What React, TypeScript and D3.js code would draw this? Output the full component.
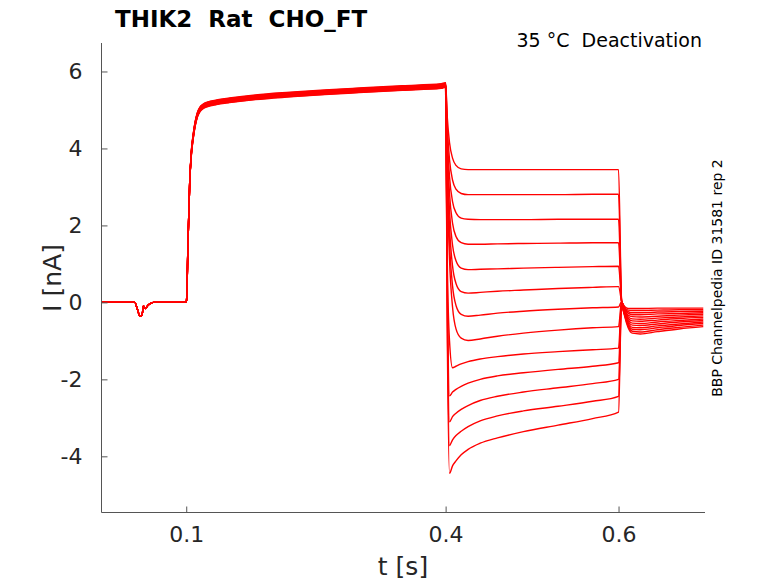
import { useEffect, useRef } from "react";
import * as d3 from "d3";

// holding + prepulse part, same for every sweep (t in s, I in nA)
const preTimes = [0.002, 0.0405, 0.0435, 0.0465, 0.048, 0.0495, 0.0505, 0.0525, 0.056, 0.062, 0.1, 0.1005, 0.102, 0.104, 0.106, 0.108, 0.11, 0.113, 0.116, 0.12, 0.125, 0.135, 0.15, 0.18, 0.22, 0.26, 0.3, 0.35, 0.395];
const preValues = [0, 0, -0.18, -0.36, -0.36, -0.25, -0.09, -0.16, -0.07, 0, 0, 0.1, 1.5, 3.1, 3.9, 4.3, 4.6, 4.88, 5.02, 5.1, 5.15, 5.2, 5.25, 5.33, 5.4, 5.46, 5.51, 5.57, 5.62];
// small spread of the sweeps during the activating step
const sweepSpread = [0.06, 0.05, 0.04, 0.03, 0.02, 0.01, 0.0, -0.01, -0.02, -0.03, -0.04, -0.05, -0.06];

// deactivation step
const deactTimes = [0.4, 0.402, 0.4045, 0.408, 0.412, 0.418, 0.426, 0.44, 0.46, 0.49, 0.53, 0.57, 0.6];
const deactValues = [
  [5.65, 4.79, 4.15, 3.75, 3.56, 3.47, 3.45, 3.45, 3.45, 3.45, 3.45, 3.45, 3.45],
  [5.65, 4.54, 3.71, 3.18, 2.94, 2.83, 2.8, 2.8, 2.8, 2.8, 2.8, 2.81, 2.81],
  [5.65, 4.29, 3.27, 2.62, 2.33, 2.19, 2.16, 2.15, 2.15, 2.15, 2.16, 2.16, 2.16],
  [5.65, 4.03, 2.83, 2.06, 1.71, 1.55, 1.51, 1.51, 1.52, 1.53, 1.54, 1.55, 1.55],
  [5.65, 3.77, 2.38, 1.49, 1.08, 0.89, 0.85, 0.86, 0.87, 0.89, 0.91, 0.93, 0.94],
  [5.65, 3.53, 1.96, 0.95, 0.49, 0.28, 0.24, 0.26, 0.29, 0.32, 0.36, 0.39, 0.41],
  [5.65, 3.3, 1.55, 0.43, -0.08, -0.31, -0.36, -0.33, -0.28, -0.23, -0.18, -0.14, -0.12],
  [5.65, 3.05, 1.11, -0.12, -0.69, -0.93, -0.99, -0.95, -0.88, -0.8, -0.72, -0.66, -0.63],
  [5.65, 1.0, -1.0, -1.7, -1.66, -1.6, -1.54, -1.47, -1.41, -1.34, -1.28, -1.23, -1.19],
  [5.65, 0.5, -2.43, -2.33, -2.26, -2.18, -2.1, -2.0, -1.91, -1.83, -1.74, -1.66, -1.57],
  [5.65, 0.0, -3.1, -2.97, -2.88, -2.78, -2.68, -2.55, -2.44, -2.33, -2.22, -2.11, -2.0],
  [5.65, -0.5, -3.72, -3.57, -3.46, -3.35, -3.23, -3.08, -2.95, -2.82, -2.7, -2.57, -2.44],
  [5.65, -1.0, -4.44, -4.25, -4.12, -3.96, -3.82, -3.66, -3.52, -3.36, -3.19, -3.02, -2.85],
];

// tail after the step back
const tailTimes = [0.6035, 0.607, 0.611, 0.616, 0.625, 0.645, 0.67, 0.698];
const tailValues = [
  [0.05, -0.35, -0.65, -0.8, -0.82, -0.76, -0.69, -0.63],
  [0.05, -0.33, -0.61, -0.75, -0.77, -0.71, -0.65, -0.59],
  [0.04, -0.31, -0.57, -0.7, -0.71, -0.66, -0.6, -0.55],
  [0.04, -0.29, -0.53, -0.65, -0.66, -0.61, -0.56, -0.51],
  [0.03, -0.27, -0.49, -0.59, -0.6, -0.56, -0.51, -0.47],
  [0.03, -0.25, -0.45, -0.54, -0.55, -0.51, -0.47, -0.43],
  [0.02, -0.23, -0.41, -0.48, -0.49, -0.46, -0.42, -0.39],
  [0.02, -0.21, -0.37, -0.43, -0.44, -0.41, -0.38, -0.35],
  [0.02, -0.19, -0.33, -0.37, -0.38, -0.36, -0.33, -0.31],
  [0.01, -0.17, -0.28, -0.32, -0.32, -0.3, -0.29, -0.27],
  [0.01, -0.15, -0.24, -0.27, -0.27, -0.25, -0.24, -0.23],
  [0.0, -0.13, -0.2, -0.21, -0.21, -0.2, -0.19, -0.19],
  [0.0, -0.11, -0.16, -0.16, -0.16, -0.15, -0.15, -0.15],
];

const xTicks = [0.1, 0.4, 0.6];
const yTicks = [-4, -2, 0, 2, 4, 6];
const yTickLabels = ["-4", "-2", "0", "2", "4", "6"];

const FONT = "DejaVu Sans, sans-serif";

export default function App() {
  const svgRef = useRef<SVGSVGElement>(null);

  useEffect(() => {
    const width = 778;
    const height = 583;
    const left = 101.5;
    const right = 705;
    const top = 43;
    const bottom = 512.5;

    const x = d3.scaleLinear().domain([0.002, 0.7]).range([left, right]);
    const y = d3.scaleLinear().domain([-5.46, 6.74]).range([bottom, top]);

    const svg = d3.select(svgRef.current);
    svg.selectAll("*").remove();
    svg.attr("width", width).attr("height", height);

    const sweeps = deactValues.map((dv, k) => {
      const pts: [number, number][] = [];
      preTimes.forEach((t, i) => pts.push([t, preValues[i] + (t >= 0.106 ? sweepSpread[k] : 0)]));
      deactTimes.forEach((t, i) => pts.push([t, dv[i] + (i === 0 ? sweepSpread[k] : 0)]));
      tailTimes.forEach((t, i) => pts.push([t, tailValues[k][i]]));
      return pts;
    });

    const line = d3.line<[number, number]>()
      .x((d) => x(d[0]))
      .y((d) => y(d[1]))
      .curve(d3.curveMonotoneX);

    // traces
    svg.append("g")
      .selectAll("path")
      .data(sweeps)
      .join("path")
      .attr("d", (d) => line(d))
      .attr("fill", "none")
      .attr("stroke", "#ff0000")
      .attr("stroke-width", 1.4);

    // x axis, ticks pointing inside
    svg.append("g")
      .attr("transform", `translate(0, ${bottom})`)
      .call(d3.axisBottom(x).tickValues(xTicks).tickSizeInner(-6).tickSizeOuter(0).tickPadding(14).tickFormat(d3.format(".1f")))
      .call((g) => g.select(".domain").attr("stroke", "#555").attr("d", `M${left},0H${right}`))
      .call((g) => g.selectAll(".tick line").attr("stroke", "#555"))
      .call((g) => g.selectAll(".tick text").attr("font-size", 22).attr("font-family", FONT).attr("fill", "#262626").attr("dy", "0.71em"));

    // y axis (plain hyphen for negatives)
    svg.append("g")
      .attr("transform", `translate(${left}, 0)`)
      .call(d3.axisLeft(y).tickValues(yTicks).tickSizeInner(-6).tickSizeOuter(0).tickPadding(19)
        .tickFormat((d, i) => yTickLabels[i]))
      .call((g) => g.select(".domain").attr("stroke", "#555").attr("d", `M0,${top}V${bottom}`))
      .call((g) => g.selectAll(".tick line").attr("stroke", "#555"))
      .call((g) => g.selectAll(".tick text").attr("font-size", 22).attr("font-family", FONT).attr("fill", "#262626"));

    // axis labels
    svg.append("text")
      .attr("x", 403)
      .attr("y", 575)
      .attr("text-anchor", "middle")
      .attr("font-family", FONT)
      .attr("font-size", 25)
      .attr("fill", "#262626")
      .text("t [s]");

    svg.append("text")
      .attr("transform", "translate(61, 278) rotate(-90)")
      .attr("text-anchor", "middle")
      .attr("font-family", FONT)
      .attr("font-size", 25)
      .attr("fill", "#262626")
      .text("I [nA]");

    // title and notes
    svg.append("text")
      .attr("x", 115)
      .attr("y", 27)
      .attr("font-family", FONT)
      .attr("font-size", 23)
      .attr("font-weight", "bold")
      .attr("fill", "#000")
      .style("white-space", "pre")
      .text("THIK2  Rat  CHO_FT");

    svg.append("text")
      .attr("x", 702)
      .attr("y", 47)
      .attr("text-anchor", "end")
      .attr("font-family", FONT)
      .attr("font-size", 19)
      .attr("fill", "#000")
      .style("white-space", "pre")
      .text("35 °C  Deactivation");

    svg.append("text")
      .attr("transform", "translate(722, 278) rotate(-90)")
      .attr("text-anchor", "middle")
      .attr("font-family", FONT)
      .attr("font-size", 14)
      .attr("fill", "#000")
      .text("BBP Channelpedia ID 31581 rep 2");
  }, []);

  return (
    <svg
      ref={svgRef}
      style={{ position: "absolute", left: 0, top: 0, display: "block", background: "#fff" }}
    />
  );
}
